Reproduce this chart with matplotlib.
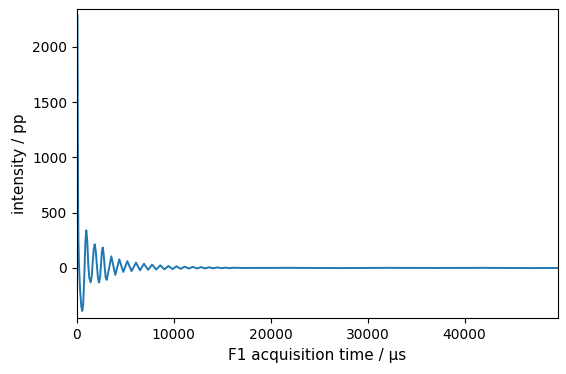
import matplotlib
matplotlib.use("Agg")
import matplotlib.pyplot as plt

# FID: acquisition time (µs) and intensity along the
# decaying oscillation, plus the flat tail
time_us = [
    50, 80, 110, 150, 210, 320, 450, 548, 640, 760, 860, 960, 1060, 1160,
    1270, 1415, 1530, 1630, 1730, 1830, 1930, 2050, 2170, 2273, 2380,
    2470, 2560, 2655, 2750, 2860, 2960, 3068, 3320, 3545, 3956, 4370,
    4783, 5195, 5630, 6095, 6508, 6920, 7340, 7760, 8180, 8600, 9020,
    9440, 9860, 10280, 10700, 11120, 11540, 11960, 12380, 12800, 13220,
    13640, 14060, 14480, 14900, 15320, 15740, 16160, 17000, 22000, 27000,
    32000, 37000, 42000, 47000, 49600,
]
intensity = [
    2285, 1500, 700, 250, 20, -200, -350, -389, -330, -60, 220, 340, 250, 40,
    -90, -130, -70, 60, 170, 215, 160, 30, -95, -132, -90,
    20, 140, 185, 130, 10, -85, -108, 0, 105, -63, 78,
    -36, 62, -28, 48, -21, 38, -17, 30, -14, 24, -12,
    18, -10, 15, -8, 12, -6, 10, -5, 8, -4,
    6, -3, 5, -2, 3, -2, 2, 0, 1, -1,
    1, 0, 1, -1, 0,
]


def main():
    fig, ax = plt.subplots(figsize=(5.66, 3.74), dpi=100)
    fig.subplots_adjust(left=0.136, right=0.985, top=0.975, bottom=0.149)

    ax.plot(time_us, intensity, color="C0", linewidth=1.4)

    ax.set_xlim(0, 49600)
    ax.set_ylim(-455, 2339)
    ax.set_xlabel("F1 acquisition time / µs", fontsize=11)
    ax.set_ylabel("intensity / pp", fontsize=11)

    fig.savefig("out.png", dpi=100)


if __name__ == "__main__":
    main()
